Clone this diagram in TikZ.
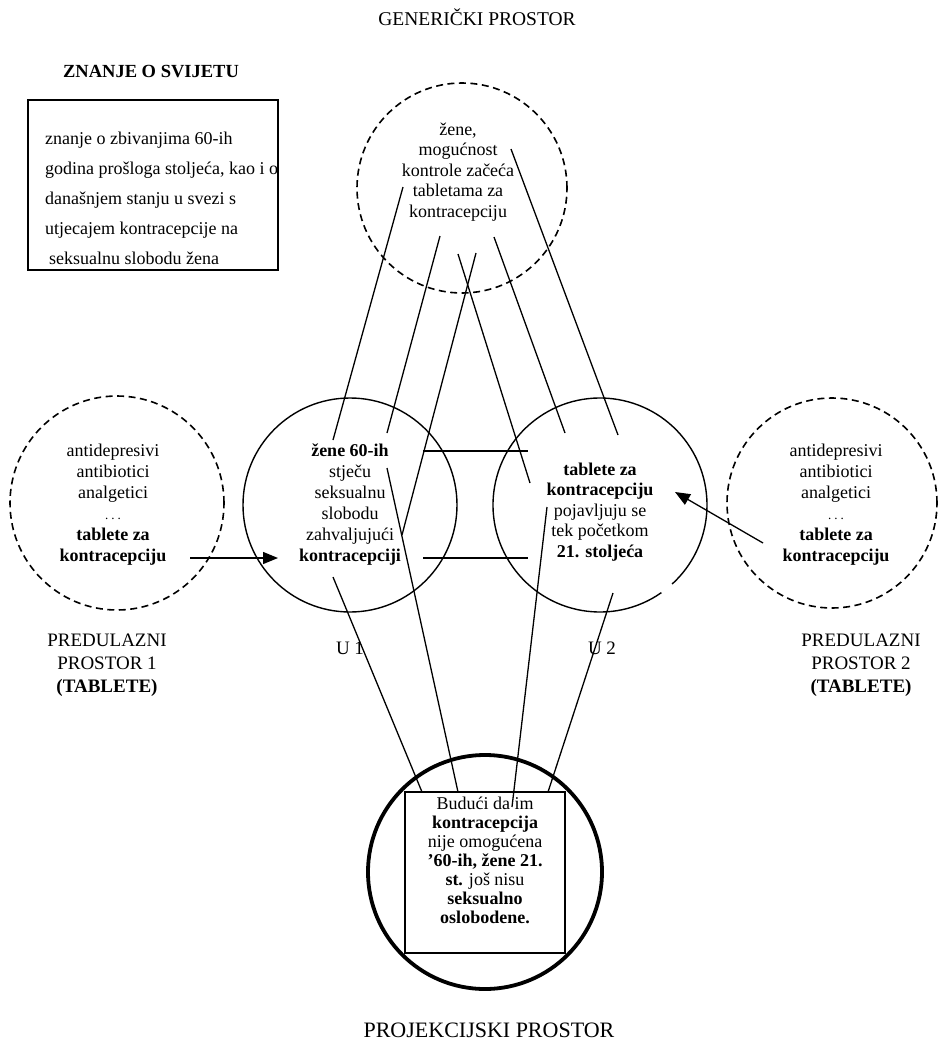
\documentclass[tikz,border=0pt]{standalone}
\usepackage{fontspec}
\setmainfont{Liberation Serif}
\usetikzlibrary{arrows.meta}
\tikzset{
  dashcirc/.style={circle,draw,line width=1.6pt,dash pattern=on 7pt off 4.5pt,minimum size=#1,inner sep=0pt},
  plaincirc/.style={circle,draw,line width=1.4pt,minimum size=#1,inner sep=0pt},
  heavycirc/.style={circle,draw,line width=3.8pt,minimum size=#1,inner sep=0pt},
  txt/.style={font=\fontsize{18}{20.5}\selectfont,align=center,inner sep=0pt},
  lbl/.style={font=\fontsize{19}{23}\selectfont,align=center,inner sep=0pt},
  conn/.style={line width=1.3pt},
  barline/.style={line width=2.6pt},
  arr/.style={line width=1.3pt,-{Triangle[length=15pt,width=12pt]}},
  boxnode/.style={draw,line width=1.4pt,inner sep=0pt},
}
\newcommand{\mydots}{{\fontsize{13}{12}\selectfont .\hspace{3pt}.\hspace{3pt}.}}
\begin{document}
\begin{tikzpicture}[x=1pt,y=-1pt]
\useasboundingbox (0,0) rectangle (944,1044);
\fill[white] (0,0) rectangle (944,1044);

% titles
\node[font=\fontsize{19.5}{22}\selectfont,inner sep=0pt] (gtitle) at (477,17) {GENERIČKI PROSTOR};
\node[font=\fontsize{22}{24}\selectfont,inner sep=0pt] (ptitle) at (489,1030) {PROJEKCIJSKI PROSTOR};
\node[font=\bfseries\fontsize{18.5}{22}\selectfont,inner sep=0pt] (ztitle) at (151,72) {ZNANJE O SVIJETU};

% world knowledge box
\node[boxnode,minimum width=250pt,minimum height=170pt] (zbox) at (153,185) {};
\node[font=\fontsize{18}{30}\selectfont,align=left,inner sep=0pt,anchor=west] (ztext) at (45,198)
 {znanje o zbivanjima 60-ih\\godina prošloga stoljeća, kao i o\\današnjem stanju u svezi s\\utjecajem kontracepcije na\\\hspace{4pt}seksualnu slobodu žena};

% circles
\node[dashcirc=210pt] (gen) at (462,188) {};
\node[dashcirc=214pt] (pre1) at (117,503) {};
\node[dashcirc=210pt] (pre2) at (832,503) {};
\node[plaincirc=214pt] (u1) at (350,505) {};
\coordinate (u2) at (600,505);
\draw[line width=1.4pt] (u2) ++(55:107) arc[start angle=55,end angle=407.6,radius=107];
\node[heavycirc=234pt] (proj) at (485,872) {};
\node[boxnode,minimum width=160pt,minimum height=161pt] (pbox) at (485,872.5) {};

% circle texts
\node[txt] (gentext) at (458,172) {žene,\\mogućnost\\kontrole začeća\\tabletama za\\kontracepciju};
\node[txt,font=\fontsize{18}{21}\selectfont] (pre1text) at (113,505) {antidepresivi\\antibiotici\\analgetici\\\mydots\\\textbf{tablete za}\\\textbf{kontracepciju}};
\node[txt,font=\fontsize{18}{21}\selectfont] (pre2text) at (836,505) {antidepresivi\\antibiotici\\analgetici\\\mydots\\\textbf{tablete za}\\\textbf{kontracepciju}};
\node[txt,font=\fontsize{18}{21}\selectfont] (u1text) at (350,505) {\textbf{žene 60-ih}\\stječu\\seksualnu\\slobodu\\zahvaljujući\\\textbf{kontracepciji}};
\node[txt] (u2text) at (600,512) {\textbf{tablete za}\\\textbf{kontracepciju}\\pojavljuju se\\tek početkom\\\textbf{21. stoljeća}};
\node[txt,font=\fontsize{18}{19}\selectfont] (ptext) at (485,860) {Budući da im\\\textbf{kontracepcija}\\nije omogućena\\\textbf{'60-ih, žene 21.}\\\textbf{st.} još nisu\\\textbf{seksualno}\\\textbf{oslobodene.}};

% labels
\node[lbl] (pre1lbl) at (107,665) {PREDULAZNI\\PROSTOR 1\\\textbf{(TABLETE)}};
\node[lbl] (pre2lbl) at (861,665) {PREDULAZNI\\PROSTOR 2\\\textbf{(TABLETE)}};
\node[lbl] (u1lbl) at (350,648) {U 1};
\node[lbl] (u2lbl) at (602,648) {U 2};

% connector end points
\coordinate (a1) at (403,187); \coordinate (b1) at (333,440);
\coordinate (a2) at (440,236); \coordinate (b2) at (387,433);
\coordinate (a3) at (458,254); \coordinate (b3) at (530,483);
\coordinate (a4) at (476,253); \coordinate (b4) at (402,535);
\coordinate (a5) at (494,237); \coordinate (b5) at (565,433);
\coordinate (a6) at (511,149); \coordinate (b6) at (618,435);
\coordinate (a7) at (333,577); \coordinate (b7) at (422,792);
\coordinate (a8) at (387,468); \coordinate (b8) at (458,792);
\coordinate (a9) at (547,507); \coordinate (b9) at (512,807);
\coordinate (a10) at (613,593); \coordinate (b10) at (548,792);
\coordinate (c1) at (423,451); \coordinate (d1) at (528,451);
\coordinate (c2) at (423,558); \coordinate (d2) at (528,558);
\coordinate (e1) at (190,558); \coordinate (f1) at (278,558);
\coordinate (e2) at (763,543); \coordinate (f2) at (675,492);

\foreach \i in {1,...,10} {\draw[conn] (a\i) -- (b\i);}
\draw[barline] (c1) -- (d1);
\draw[barline] (c2) -- (d2);
\draw[arr] (e1) -- (f1);
\draw[arr] (e2) -- (f2);
\end{tikzpicture}
\end{document}
